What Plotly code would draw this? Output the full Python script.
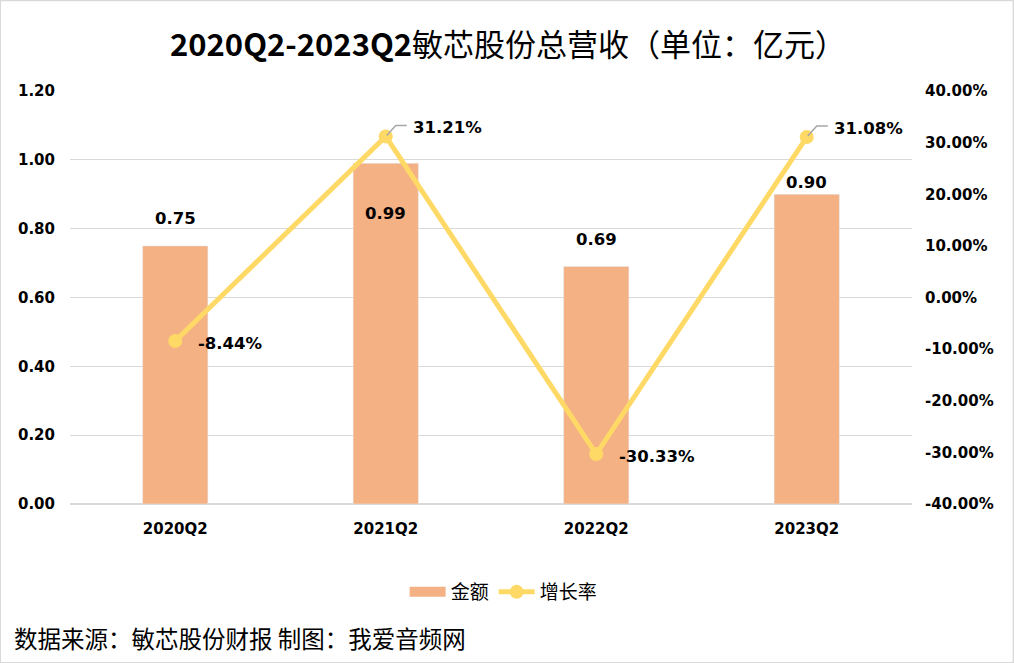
import plotly.graph_objects as go

categories = ["2020Q2", "2021Q2", "2022Q2", "2023Q2"]
revenue = [0.75, 0.99, 0.69, 0.90]
growth = [-0.0844, 0.3121, -0.3033, 0.3108]
rev_labels = ["0.75", "0.99", "0.69", "0.90"]
growth_labels = ["-8.44%", "31.21%", "-30.33%", "31.08%"]
y2_ticks = [-0.4, -0.3, -0.2, -0.1, 0.0, 0.1, 0.2, 0.3, 0.4]
y2_ticktext = ["-40.00%", "-30.00%", "-20.00%", "-10.00%", "0.00%",
               "10.00%", "20.00%", "30.00%", "40.00%"]

BAR = "#F4B183"
LINE = "#FFD966"
TICKFONT = dict(family="DejaVu Sans", size=15, color="#000000")
LABELFONT = dict(family="DejaVu Sans", size=16.5, color="#000000")

fig = go.Figure()
fig.add_trace(go.Bar(x=categories, y=revenue, name="金额", marker=dict(color=BAR),
                     width=0.31, yaxis="y", showlegend=False))
# legend proxy for the bar series (wide swatch)
fig.add_trace(go.Scatter(x=[None], y=[None], name="金额", mode="lines",
                         line=dict(color=BAR, width=14), yaxis="y"))
fig.add_trace(go.Scatter(x=categories, y=growth, name="增长率", mode="lines+markers",
                         line=dict(color=LINE, width=5),
                         marker=dict(color=LINE, size=14), yaxis="y2"))

bar_shift = [27, -50, 27, 12]
annotations = []
for c, v, t, s in zip(categories, revenue, rev_labels, bar_shift):
    annotations.append(dict(x=c, y=v, xref="x", yref="y", text="<b>%s</b>" % t,
                            showarrow=False, yshift=s, font=LABELFONT))

shapes = []
for c, v, t in zip(categories, growth, growth_labels):
    if v > 0:
        annotations.append(dict(x=c, y=v, xref="x", yref="y2", text="<b>%s</b>" % t,
                                showarrow=False, xanchor="left", xshift=25, yshift=9,
                                font=LABELFONT))
        shapes.append(dict(type="path", xref="x", yref="y2", xsizemode="pixel",
                           ysizemode="pixel", xanchor=c, yanchor=v,
                           path="M 1 1 L 10 11 L 21 11",
                           line=dict(color="#A6A6A6", width=1.5)))
    else:
        annotations.append(dict(x=c, y=v, xref="x", yref="y2", text="<b>%s</b>" % t,
                                showarrow=False, xanchor="left", xshift=21, yshift=-2,
                                font=LABELFONT))

annotations.append(dict(xref="paper", yref="paper", x=(508 - 70) / 842.0,
                        y=1.0 + (91 - 42) / 413.0,
                        text="<b>2020Q2-2023Q2</b>敏芯股份总营收（单位：亿元）",
                        showarrow=False, yanchor="middle",
                        font=dict(family="Noto Sans CJK SC", size=31, color="#000000")))
annotations.append(dict(xref="paper", yref="paper", x=-58 / 842.0, y=-(638 - 504) / 413.0,
                        text="数据来源：敏芯股份财报 制图：我爱音频网", xanchor="left",
                        yanchor="middle", showarrow=False,
                        font=dict(family="Noto Sans CJK SC", size=23.5, color="#000000")))

shapes.append(dict(type="rect", xref="paper", yref="paper",
                   x0=-70 / 842.0, x1=1 + 102 / 842.0 - 0.0005,
                   y0=-159 / 413.0, y1=1 + 91 / 413.0 - 0.0005,
                   line=dict(color="#D9D9D9", width=2)))

fig.update_layout(
    width=1014, height=663,
    margin=dict(l=70, r=102, t=91, b=159),
    paper_bgcolor="white", plot_bgcolor="white",
    showlegend=True,
    legend=dict(orientation="h", x=0.515, xanchor="center", y=-(592 - 504) / 413.0,
                yanchor="middle", font=dict(family="Noto Sans CJK SC", size=19, color="#000000"),
                traceorder="normal", itemwidth=36, tracegroupgap=0),
    xaxis=dict(type="category", showgrid=False, showline=False, ticks="",
               tickfont=TICKFONT, ticklabelstandoff=14),
    yaxis=dict(range=[0, 1.2], dtick=0.2, tickformat=".2f", showgrid=True,
               gridcolor="#D9D9D9", gridwidth=1, zeroline=True, zerolinecolor="#D9D9D9",
               zerolinewidth=2, tickfont=TICKFONT, ticklabelstandoff=14, showline=False),
    yaxis2=dict(range=[-0.4, 0.4], tickmode="array", tickvals=y2_ticks,
                ticktext=["<b>%s</b>" % s for s in y2_ticktext], overlaying="y",
                side="right", showgrid=False, zeroline=False, tickfont=TICKFONT,
                ticklabelstandoff=12, showline=False),
    annotations=annotations,
    shapes=shapes,
)
fig.update_layout(yaxis=dict(tickprefix="<b>", ticksuffix="</b>"),
                  xaxis=dict(tickprefix="<b>", ticksuffix="</b>"))

fig.write_html("out.html")
